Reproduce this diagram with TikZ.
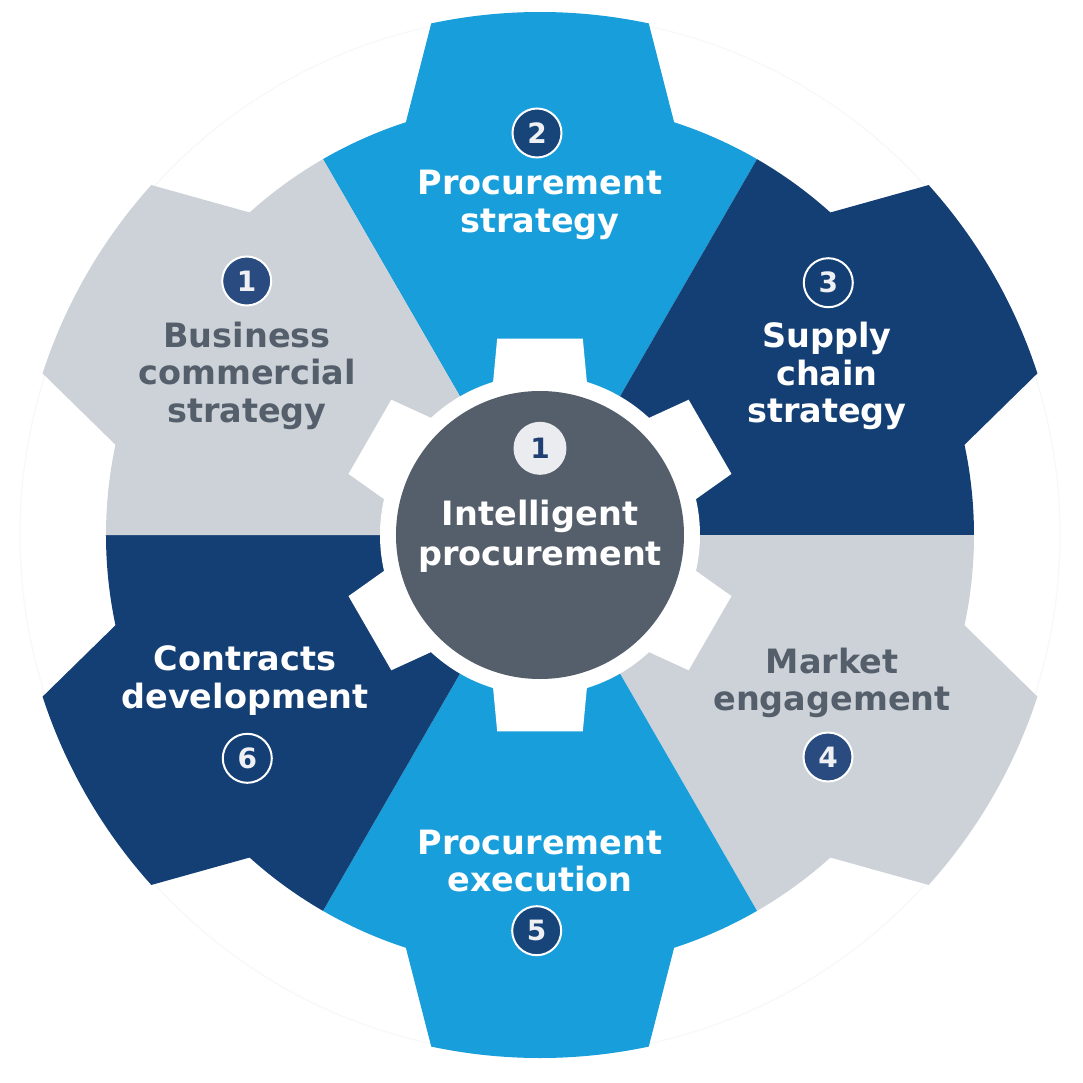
\documentclass[tikz,border=0pt]{standalone}
\usepackage{fontspec}
\setmainfont{DejaVu Sans}
\definecolor{lgray}{HTML}{CDD2D8}
\definecolor{cblue}{HTML}{189EDA}
\definecolor{navy}{HTML}{143F74}
\definecolor{slate}{HTML}{545F6B}
\definecolor{badgeA}{HTML}{2A4B80}
\definecolor{badgeB}{HTML}{17457A}
\definecolor{badgetxt}{HTML}{EEF0F4}
\definecolor{centerbadge}{HTML}{EBECEF}
\definecolor{centerdigit}{HTML}{1F3F73}
\definecolor{faint}{HTML}{F7F8F9}
\begin{document}
\begin{tikzpicture}[x=0.5pt,y=0.5pt,
  lab/.style={font=\fontsize{16.75}{18.75}\selectfont\bfseries, align=center, anchor=base, inner sep=0pt},
  centerlab/.style={font=\fontsize{16.75}{20}\selectfont\bfseries, align=center, anchor=base, inner sep=0pt, text=white},
  badge/.style={circle, minimum size=24.5pt, inner sep=0pt, line width=1pt, draw=white, text=badgetxt, font=\fontsize{14}{14}\selectfont\bfseries}]
\useasboundingbox (-540,-548) rectangle (543,535);
\fill[white] (-540,-548) rectangle (543,535);
% faint outer guide circle
\draw[faint, line width=0.6pt] (0,0) circle[radius=520];
% outer gear sectors
\foreach \c/\col in {90/cblue, 30/navy, -30/lgray, -90/cblue, -150/navy, 150/lgray}{
  \fill[\col] (0,0) -- (\c-30:434)
    arc[start angle=\c-30, end angle=\c-18, radius=434]
    -- (\c-12:523)
    arc[start angle=\c-12, end angle=\c+12, radius=523]
    -- (\c+18:434)
    arc[start angle=\c+18, end angle=\c+30, radius=434]
    -- cycle;
}
% inner white gear
\fill[white] (0,0) circle[radius=160];
\foreach \c in {90,30,-30,-90,-150,150}{
  \fill[white] (\c-17.5:157) -- (\c-12.3:201) -- (\c+12.3:201) -- (\c+17.5:157) -- cycle;
}
% center disc
\fill[slate] (0,0) circle[radius=144];
% labels (anchor = baseline of the last line)
\node[lab, text=white] (l2) at (0,303) {Procurement\\strategy};
\node[lab, text=slate] (l1) at (-293,113) {Business\\commercial\\strategy};
\node[lab, text=white] (l3) at (287,112.3) {Supply\\chain\\strategy};
\node[lab, text=slate] (l4) at (292,-175.7) {Market\\engagement};
\node[lab, text=white] (l5) at (0,-356.7) {Procurement\\execution};
\node[lab, text=white] (l6) at (-295,-173.3) {Contracts\\development};
\node[centerlab] (l0) at (0,-30) {Intelligent\\procurement};
% badges
\node[badge, fill=badgeA] (b1) at (-293.3,254) {1};
\node[badge, fill=badgeB] (b2) at (-3,402) {2};
\node[badge, fill=navy] (b3) at (288.3,252.3) {3};
\node[badge, fill=badgeA] (b4) at (288,-222) {4};
\node[badge, fill=badgeB] (b5) at (-3.3,-395.7) {5};
\node[badge, fill=navy] (b6) at (-292.7,-223.3) {6};
\node[badge, draw=none, minimum size=26.5pt, fill=centerbadge, text=centerdigit] (b0) at (0,86.7) {1};
\end{tikzpicture}
\end{document}
